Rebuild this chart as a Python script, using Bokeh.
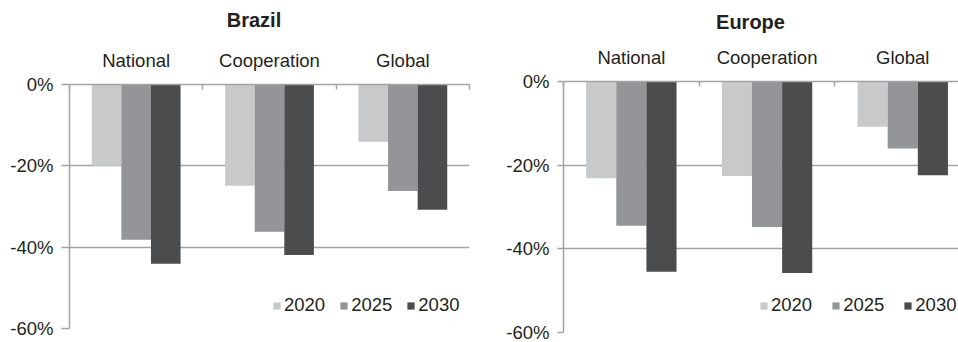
from bokeh.plotting import figure
from bokeh.models import (ColumnDataSource, FixedTicker, PrintfTickFormatter, Legend,
                          LegendItem, Range1d)
from bokeh.core.properties import value
from bokeh.layouts import row, column
from bokeh.embed import file_html
from bokeh.resources import INLINE

categories = ["National", "Cooperation", "Global"]
years = ["2020", "2025", "2030"]
brazil_2020 = [-20.0, -24.9, -14.1]
brazil_2025 = [-38.2, -36.2, -26.2]
brazil_2030 = [-44.1, -41.9, -30.8]
europe_2020 = [-23.1, -22.6, -10.8]
europe_2025 = [-34.5, -34.8, -16.0]
europe_2030 = [-45.5, -45.8, -22.4]
y_ticks = [0, -20, -40, -60]
titles = ["Brazil", "Europe"]

colors = ["#c8c9cb", "#939598", "#4b4c4e"]
FONT = "Liberation Sans"
TXT = "#231f20"
LINE = "#a3a3a3"
TITLE_H = 40


def make_title(text, width, cx, baseline):
    t = figure(width=width, height=TITLE_H, output_backend="svg", toolbar_location=None,
               x_range=Range1d(0, width), y_range=Range1d(TITLE_H, 0),
               x_axis_location=None, y_axis_location=None, min_border=0,
               frame_align=False)
    t.outline_line_color = None
    t.xgrid.visible = False
    t.ygrid.visible = False
    src = ColumnDataSource(dict(x=[cx], y=[baseline], text=[text]))
    t.text(x="x", y="y", text="text", source=src, text_align="center",
           text_baseline="alphabetic", text_font=value(FONT), text_font_size="20px",
           text_font_style="bold", text_color=TXT)
    return t


def make_panel(series, width, frame_left, frame_right, frame_top, frame_bottom,
               x_end, tick_out, legend_xy, legend_spacing):
    p = figure(width=width, height=342 - TITLE_H, output_backend="svg", toolbar_location=None,
               x_range=Range1d(0, x_end), y_range=Range1d(-60, 0),
               x_axis_location="above", min_border_left=frame_left,
               min_border_right=frame_right, min_border_top=frame_top,
               min_border_bottom=frame_bottom, frame_align=False)
    p.outline_line_color = None
    p.background_fill_color = "white"
    p.border_fill_color = "white"

    xs = [i + 0.5 for i in range(len(categories))]
    offsets = [-0.222, 0.0, 0.222]
    renderers = []
    for vals, off, col in zip(series, offsets, colors):
        src = ColumnDataSource(dict(x=[x + off for x in xs], top=[0] * len(vals), bottom=vals))
        r = p.vbar(x="x", top="top", bottom="bottom", width=0.222, source=src,
                   fill_color=col, line_color=None)
        renderers.append(r)

    xa = p.xaxis[0]
    xa.ticker = FixedTicker(ticks=xs, minor_ticks=list(range(len(categories) + 1)))
    xa.major_label_overrides = {x: c for x, c in zip(xs, categories)}
    xa.major_tick_line_color = None
    xa.minor_tick_line_color = LINE
    xa.minor_tick_line_width = 1.5
    xa.minor_tick_in = 5
    xa.minor_tick_out = 0
    xa.major_tick_out = 0
    xa.major_tick_in = 0
    xa.axis_line_color = LINE
    xa.axis_line_width = 1.5
    xa.major_label_standoff = 14
    xa.major_label_text_font = FONT
    xa.major_label_text_font_size = "18.5px"
    xa.major_label_text_color = TXT

    ya = p.yaxis[0]
    ya.ticker = FixedTicker(ticks=y_ticks)
    ya.formatter = PrintfTickFormatter(format="%d%%")
    ya.axis_line_color = LINE
    ya.axis_line_width = 1.5
    ya.major_tick_line_color = LINE
    ya.major_tick_line_width = 1.5
    ya.major_tick_out = tick_out
    ya.major_tick_in = 0
    ya.minor_tick_line_color = None
    ya.major_label_standoff = 8
    ya.major_label_text_font = FONT
    ya.major_label_text_font_size = "18.5px"
    ya.major_label_text_color = TXT

    p.xgrid.grid_line_color = None
    p.ygrid.ticker = FixedTicker(ticks=y_ticks)
    p.ygrid.grid_line_color = LINE
    p.ygrid.grid_line_width = 1.5

    legend = Legend(items=[LegendItem(label=y, renderers=[r]) for y, r in zip(years, renderers)],
                    orientation="horizontal", location=legend_xy,
                    border_line_color=None, background_fill_alpha=0,
                    padding=0, margin=0, spacing=legend_spacing, label_standoff=3,
                    glyph_width=9, glyph_height=9, label_height=20,
                    label_text_font=FONT, label_text_font_size="18.5px",
                    label_text_color=TXT)
    p.add_layout(legend)
    return p


t1 = make_title(titles[0], 478, 253.5, 19.5)
t2 = make_title(titles[1], 480, 272, 21.3)
p1 = make_panel([brazil_2020, brazil_2025, brazil_2030], 478,
                69, 9, 84 - TITLE_H, 14, 3.0, 8, (203, 12), 14)
p2 = make_panel([europe_2020, europe_2025, europe_2030], 480,
                85, 0, 81 - TITLE_H, 10, 395 / 135.7, 6, (196, 16), 19)

layout = row(column(t1, p1, spacing=0), column(t2, p2, spacing=0), spacing=0)
open("out.html", "w").write(file_html(layout, INLINE))
